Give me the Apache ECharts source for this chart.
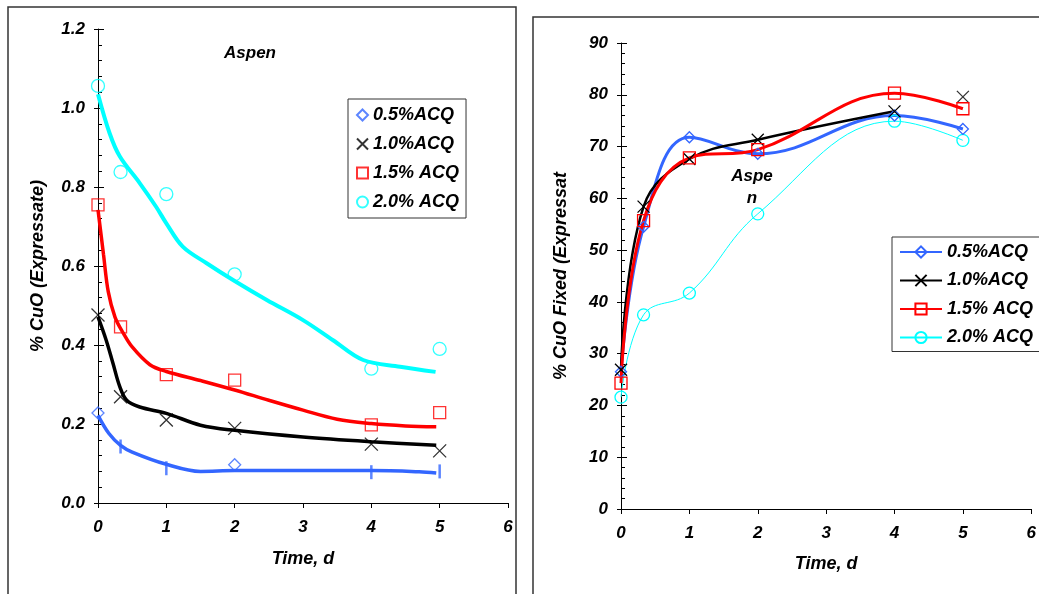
<!DOCTYPE html>
<html>
<head>
<meta charset="utf-8">
<script src="https://cdn.jsdelivr.net/npm/echarts@6/dist/echarts.min.js"></script>
<style>
html, body { margin: 0; padding: 0; background: #fff; }
#main { width: 1039px; height: 594px; }
</style>
</head>
<body>
<div id="main"></div>
<script>
// left panel: % CuO in expressate (measured points)
var exprDiamond05 = [[0, 0.228], [2, 0.097]];
var exprBar05 = [[0.33, 0.143], [1, 0.088], [4, 0.078], [5, 0.080]];
var exprPts10 = [[0, 0.476], [0.33, 0.269], [1, 0.21], [2, 0.189], [4, 0.149], [5, 0.132]];
var exprPts15 = [[0, 0.755], [0.33, 0.446], [1, 0.325], [2, 0.311], [4, 0.198], [5, 0.229]];
var exprPts20 = [[0, 1.056], [0.33, 0.838], [1, 0.782], [2, 0.579], [4, 0.34], [5, 0.39]];

// left panel: trend curves
var exprFit05 = [[0, 0.222], [0.16, 0.176], [0.33, 0.146], [0.5, 0.129], [1, 0.098], [1.5, 0.08], [2, 0.082], [3, 0.082], [4, 0.082], [4.7, 0.079], [4.95, 0.076]];
var exprFit10 = [[0, 0.471], [0.12, 0.412], [0.22, 0.353], [0.32, 0.294], [0.42, 0.26], [0.61, 0.243], [1, 0.227], [1.5, 0.197], [2, 0.184], [3, 0.167], [4, 0.155], [4.95, 0.146]];
var exprFit15 = [[0, 0.742], [0.08, 0.63], [0.15, 0.535], [0.25, 0.47], [0.37, 0.43], [0.5, 0.395], [0.76, 0.35], [1, 0.333], [1.5, 0.31], [2, 0.286], [2.5, 0.26], [3, 0.235], [3.5, 0.212], [4, 0.201], [4.5, 0.195], [4.95, 0.193]];
var exprFit20 = [[0, 1.035], [0.17, 0.936], [0.32, 0.877], [0.61, 0.81], [0.85, 0.75], [1, 0.708], [1.24, 0.649], [1.59, 0.607], [2, 0.562], [2.47, 0.514], [3, 0.463], [3.44, 0.412], [3.88, 0.362], [4.42, 0.345], [4.94, 0.332]];

// right panel: % CuO fixed
var fixed05 = [[0, 26.5], [0.33, 54.5], [1, 71.8], [2, 68.6], [4, 76], [5, 73.4]];
var fixed10 = [[0, 26.9], [0.33, 58.4], [1, 67.6], [2, 71.3], [4, 76.8]];
var fixed10Last = [[5, 79.6]];
var fixed15 = [[0, 24.3], [0.33, 55.7], [1, 67.8], [2, 69.4], [4, 80.3], [5, 77.3]];
var fixed20 = [[0, 21.6], [0.33, 37.5], [1, 41.7], [2, 57], [4, 74.9], [5, 71.2]];

var names = ['0.5%ACQ', '1.0%ACQ', '1.5% ACQ', '2.0% ACQ'];

var BLUE = '#3366ff', BLACK = '#000000', RED = '#ff0000', CYAN = '#00ffff';
var FONT = "'Liberation Sans', Arial, sans-serif";
var XMARK = 'path://M0,0L10,10M10,0L0,10';

var myChart = echarts.init(document.getElementById('main'));

function txt(size) {
    return { fontFamily: FONT, fontWeight: 'bold', fontStyle: 'italic', fontSize: size, color: '#000' };
}

function xAx(grid, gap) {
    return {
        type: 'value', gridIndex: grid, min: 0, max: 6, interval: 1,
        name: 'Time, d', nameLocation: 'middle', nameGap: gap, nameTextStyle: txt(18),
        axisLine: { lineStyle: { color: '#000', width: 1 } },
        axisTick: { length: 5, lineStyle: { color: '#000' } },
        axisLabel: Object.assign(txt(17), { margin: 16 }),
        splitLine: { show: false }
    };
}

function yAx(grid, max, step, name, fmt) {
    return {
        type: 'value', gridIndex: grid, min: 0, max: max, interval: step, position: 'left',
        name: name, nameLocation: 'middle', nameGap: 51, nameTextStyle: txt(18),
        axisLine: { show: true, lineStyle: { color: '#000', width: 1 } },
        axisTick: { show: true, inside: true, length: 6, lineStyle: { color: '#000' } },
        minorTick: { show: true, splitNumber: 5, length: 4, lineStyle: { color: '#000' } },
        axisLabel: Object.assign(txt(17), { margin: 13, formatter: fmt }),
        splitLine: { show: false }, minorSplitLine: { show: false }
    };
}

function yTicks(grid, max, step) {
    return {
        type: 'value', gridIndex: grid, min: 0, max: max, interval: step, position: 'left',
        axisLine: { show: false }, axisLabel: { show: false }, splitLine: { show: false },
        axisTick: { show: true, length: 4, lineStyle: { color: '#000' } }
    };
}

function fit(data, color, w) {
    return {
        type: 'line', xAxisIndex: 0, yAxisIndex: 0, data: data, smooth: 0.35,
        showSymbol: false, silent: true, z: 2,
        lineStyle: { color: color, width: w }, itemStyle: { color: color }
    };
}

function pts(name, data, symbol, size, color) {
    return {
        name: name, type: 'scatter', xAxisIndex: 0, yAxisIndex: 0, data: data,
        symbol: symbol, symbolSize: size, z: 3,
        itemStyle: { color: 'transparent', borderColor: color, borderWidth: 1.3 }
    };
}

function curve(name, data, symbol, size, color, w) {
    return {
        name: 'R' + name, type: 'line', xAxisIndex: 1, yAxisIndex: 2, data: data,
        smooth: 0.4, symbol: symbol, symbolSize: size, showAllSymbol: true,
        lineStyle: { color: color, width: w },
        itemStyle: { color: 'transparent', borderColor: color, borderWidth: 1.3 }
    };
}

option = {
    animation: false,
    backgroundColor: '#fff',
    graphic: [
        { type: 'rect', z: -1, shape: { x: 8, y: 7, width: 508, height: 620 },
          style: { fill: 'none', stroke: '#333', lineWidth: 1.5 } },
        { type: 'rect', z: -1, shape: { x: 533, y: 17, width: 540, height: 620 },
          style: { fill: 'none', stroke: '#333', lineWidth: 1.5 } }
    ],
    title: [
        { text: 'Aspen', left: 245, top: 40, textAlign: 'center', textStyle: txt(17) },
        { text: 'Aspe\nn', left: 747, top: 160, textAlign: 'center',
          textStyle: Object.assign(txt(17), { lineHeight: 22 }) }
    ],
    legend: [
        {
            data: names, orient: 'vertical', left: 348, top: 99,
            padding: [7, 7, 7, 8], itemGap: 11, itemWidth: 11, itemHeight: 11,
            borderColor: '#333', borderWidth: 1, backgroundColor: '#fff',
            textStyle: txt(18)
        },
        {
            data: names.map(function (n) { return 'R' + n; }),
            formatter: function (n) { return n.slice(1); },
            orient: 'vertical', left: 892, top: 237,
            padding: [6, 8, 5, 7], itemGap: 10.5, itemWidth: 42, itemHeight: 14,
            borderColor: '#333', borderWidth: 1, backgroundColor: '#fff',
            textStyle: txt(18)
        }
    ],
    grid: [
        { left: 98, top: 29, width: 410, height: 474 },
        { left: 621, top: 43, width: 414, height: 466 }
    ],
    xAxis: [xAx(0, 47), xAx(1, 46)],
    yAxis: [
        yAx(0, 1.2, 0.2, '% CuO (Expressate)', function (v) { return v.toFixed(1); }),
        yTicks(0, 1.2, 0.2),
        yAx(1, 90, 10, '% CuO Fixed (Expressat', function (v) { return v; }),
        yTicks(1, 90, 10)
    ],
    series: [
        fit(exprFit05, BLUE, 3.5),
        fit(exprFit10, BLACK, 3.5),
        fit(exprFit15, RED, 3.5),
        fit(exprFit20, CYAN, 4),
        pts(names[0], exprDiamond05, 'diamond', 12, BLUE),
        {
            type: 'scatter', xAxisIndex: 0, yAxisIndex: 0, data: exprBar05,
            symbol: 'rect', symbolSize: [2.5, 14], z: 3, silent: true,
            itemStyle: { color: BLUE }
        },
        pts(names[1], exprPts10, XMARK, 13, BLACK),
        pts(names[2], exprPts15, 'rect', 12, RED),
        pts(names[3], exprPts20, 'circle', 13, CYAN),

        curve(names[3], fixed20, 'circle', 12, CYAN, 1),
        curve(names[0], fixed05, 'diamond', 11, BLUE, 3),
        curve(names[1], fixed10, XMARK, 12, BLACK, 2.5),
        {
            type: 'scatter', xAxisIndex: 1, yAxisIndex: 2, data: fixed10Last,
            symbol: XMARK, symbolSize: 12, silent: true,
            itemStyle: { color: 'transparent', borderColor: BLACK, borderWidth: 1.3 }
        },
        curve(names[2], fixed15, 'rect', 12, RED, 3)
    ]
};
option && myChart.setOption(option);
</script>
</body>
</html>
